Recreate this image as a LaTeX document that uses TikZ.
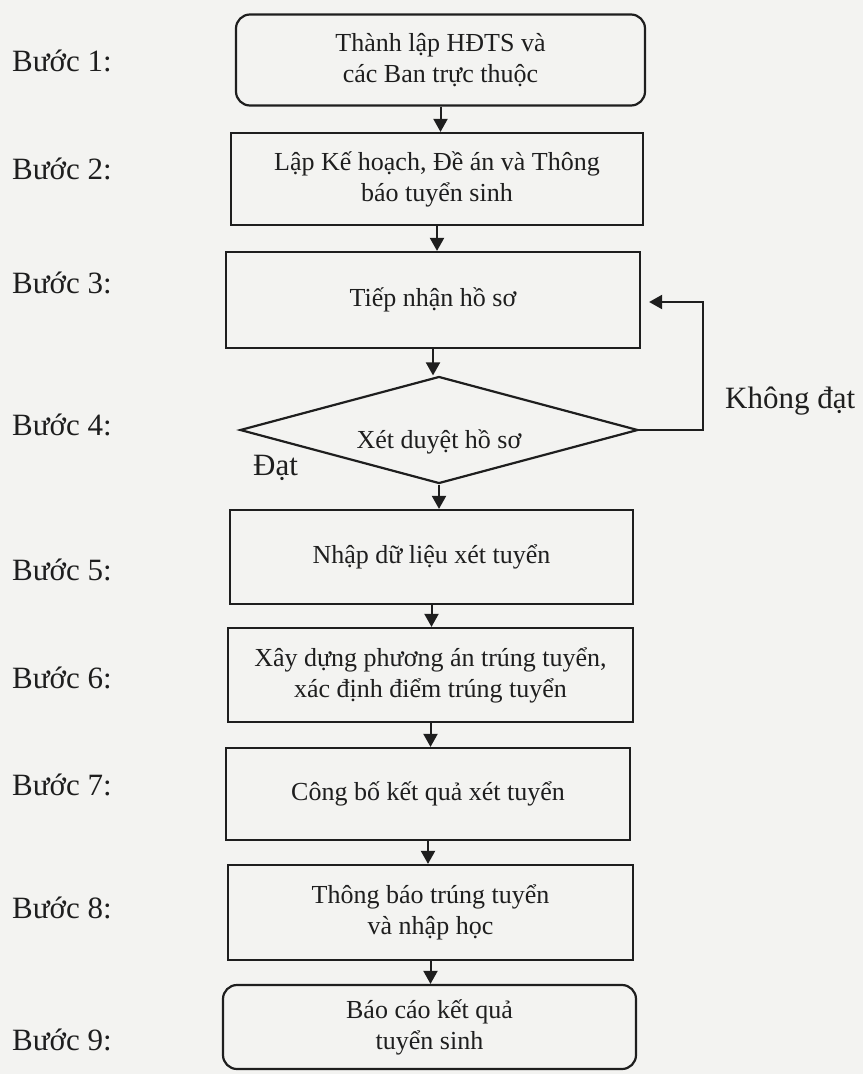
\documentclass[tikz,border=0pt]{standalone}
\usepackage{fontspec}
\setmainfont{Liberation Serif}
\usetikzlibrary{shapes.geometric,arrows.meta}
\definecolor{ink}{HTML}{1E1E1E}
\definecolor{paper}{HTML}{F3F3F1}
\begin{document}
\begin{tikzpicture}[x=1pt,y=-1pt,
  box/.style={draw=ink,line width=2.2pt,align=center,text=ink,inner sep=0pt,
    font=\fontsize{26}{31}\selectfont},
  rbox/.style={box,rounded corners=14pt},
  dec/.style={draw=ink,line width=2.2pt,shape=diamond,inner sep=0pt,aspect=3.7,
    minimum width=398pt,minimum height=107pt},
  txt/.style={text=ink,inner sep=0pt,font=\fontsize{26}{31}\selectfont},
  steplabel/.style={anchor=west,text=ink,inner sep=0pt,font=\fontsize{31}{36}\selectfont},
  arr/.style={draw=ink,line width=2pt,-{Triangle[length=13pt,width=14pt]}},
]
\fill[paper] (0,0) rectangle (863,1074);
\useasboundingbox (0,0) rectangle (863,1074);

% step labels
\node[steplabel] (s1) at (12,61) {Bước 1:};
\node[steplabel] (s2) at (12,169) {Bước 2:};
\node[steplabel] (s3) at (12,283) {Bước 3:};
\node[steplabel] (s4) at (12,425) {Bước 4:};
\node[steplabel] (s5) at (12,570) {Bước 5:};
\node[steplabel] (s6) at (12,678) {Bước 6:};
\node[steplabel] (s7) at (12,785) {Bước 7:};
\node[steplabel] (s8) at (12,908) {Bước 8:};
\node[steplabel] (s9) at (12,1040) {Bước 9:};

% boxes
\node[rbox,minimum width=409pt,minimum height=91pt] (b1) at (440.5,60) {Thành lập HĐTS và\\các Ban trực thuộc};
\node[box,minimum width=412pt,minimum height=92pt] (b2) at (437,179) {Lập Kế hoạch, Đề án và Thông\\báo tuyển sinh};
\node[box,minimum width=414pt,minimum height=96pt] (b3) at (433,300) {Tiếp nhận hồ sơ};
\node[dec] (d4) at (439,430) {};
\node[txt] (d4t) at (439,442) {Xét duyệt hồ sơ};
\node[box,minimum width=403pt,minimum height=94pt] (b5) at (431.5,557) {Nhập dữ liệu xét tuyển};
\node[box,minimum width=405pt,minimum height=94pt] (b6) at (430.5,675) {Xây dựng phương án trúng tuyển,\\xác định điểm trúng tuyển};
\node[box,minimum width=404pt,minimum height=92pt] (b7) at (428,794) {Công bố kết quả xét tuyển};
\node[box,minimum width=405pt,minimum height=95pt] (b8) at (430.5,912.5) {Thông báo trúng tuyển\\và nhập học};
\node[rbox,minimum width=413pt,minimum height=84pt] (b9) at (429.5,1027) {Báo cáo kết quả\\tuyển sinh};

% decision labels
\node[steplabel] (no) at (725,401) {Không đạt};
\node[steplabel] (yes) at (253,468) {Đạt};

% connectors
\draw[arr] (b1.south) -- (b1.south |- b2.north);
\draw[arr] (b2.south) -- (b2.south |- b3.north);
\draw[arr] (b3.south) -- (b3.south |- d4.north);
\draw[arr] (d4.south) -- (d4.south |- b5.north);
\draw[arr] (b5.south) -- (b5.south |- b6.north);
\draw[arr] (b6.south) -- (b6.south |- b7.north);
\draw[arr] (b7.south) -- (b7.south |- b8.north);
\draw[arr] (b8.south) -- (b8.south |- b9.north);
\coordinate (fb) at (703,302);
\draw[arr] (d4.east) -- (d4.east -| fb) -- (fb) -- ([xshift=8pt]b3.east |- fb);
\end{tikzpicture}
\end{document}
